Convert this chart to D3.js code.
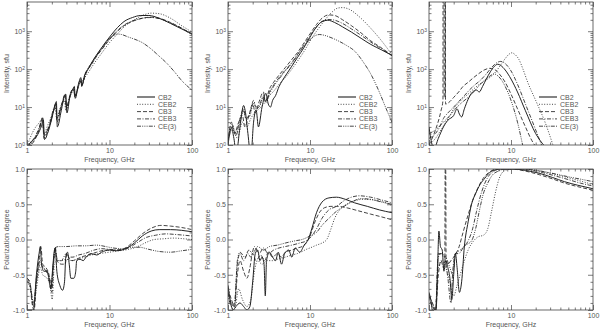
<!DOCTYPE html>
<html><head><meta charset="utf-8">
<script src="https://cdn.jsdelivr.net/npm/d3@7"></script>
<style>body{margin:0;background:#fff}svg{display:block}</style>
</head><body>
<script>
// ---------------- DATA ----------------
const seriesNames = ["CB2", "CEB2", "CB3", "CEB3", "CE(3)"];
const xTicks = [1, 10, 100];
const xTickLabels = ["1", "10", "100"];
const intensityTicks = [1, 10, 100, 1000];
const intensityExps = ["0", "1", "2", "3"];
const polTicks = [-1, -0.5, 0, 0.5, 1];
const polTickLabels = ["-1.0", "-0.5", "0.0", "0.5", "1.0"];

// Panel A (top-left): intensity, sfu  [freq GHz, value]
const A_CB2 = [[1.0,0.9],[1.15,1.3],[1.35,1.9],[1.5,3.2],[1.58,4.5],[1.63,1.4],[1.8,2.2],[2.0,5],[2.2,12],[2.27,14],[2.33,3],[2.6,8],[2.85,20],[2.95,22],[3.05,7],[3.3,18],[3.6,30],[3.75,35],[3.85,17],[4.2,40],[4.5,60],[4.6,35],[5.0,70],[5.5,100],[6.3,170],[7.5,300],[9,520],[10.5,800],[12.5,1250],[15,1800],[19,2300],[24,2600],[30,2600],[40,2200],[55,1600],[75,1150],[100,850]];
const A_CEB2 = [[1.0,0.9],[1.1,1.6],[1.25,2.8],[1.4,3.8],[1.55,5],[1.6,2],[1.8,3.5],[2.0,6],[2.2,10],[2.28,5],[2.5,9],[2.85,15],[2.95,8],[3.3,18],[3.7,28],[3.8,20],[4.3,40],[4.5,45],[5.0,60],[5.5,80],[6.5,140],[8,260],[10,500],[12.5,850],[15,1300],[20,2000],[25,2600],[32,3000],[40,2900],[55,2200],[75,1400],[100,950]];
const A_CB3 = [[1.0,0.9],[1.2,1.2],[1.4,2.5],[1.55,5.5],[1.6,1.5],[1.85,3],[2.1,8],[2.25,13],[2.3,4],[2.6,10],[2.9,22],[3.0,9],[3.4,25],[3.7,32],[3.8,18],[4.3,45],[4.5,55],[4.6,38],[5.2,80],[6,130],[7,220],[8.5,380],[10,600],[12.5,1000],[15,1400],[20,1900],[25,2200],[32,2350],[40,2200],[55,1700],[75,1200],[100,850]];
const A_CEB3 = [[1.0,0.9],[1.2,1.4],[1.4,2.8],[1.55,5],[1.6,1.8],[1.85,3.2],[2.1,9],[2.25,12],[2.3,5],[2.6,11],[2.9,20],[3.0,10],[3.4,24],[3.7,30],[3.8,20],[4.3,42],[4.5,50],[4.6,40],[5.2,85],[6,140],[7,230],[8.5,400],[10,640],[12.5,1050],[15,1450],[20,1950],[25,2200],[32,2300],[40,2150],[55,1650],[75,1200],[100,800]];
const A_CE3 = [[1.0,0.9],[1.2,1.3],[1.4,2.6],[1.55,4.5],[1.6,2],[1.85,3],[2.1,8],[2.25,11],[2.3,5],[2.6,10],[2.9,18],[3.0,10],[3.4,22],[3.7,28],[3.8,19],[4.3,40],[4.5,48],[4.6,40],[5.2,80],[6,135],[7,225],[8.5,420],[10,650],[11.5,800],[12.5,840],[14,820],[17,700],[20,620],[25,500],[30,380],[40,220],[50,140],[60,90],[75,50],[100,28]];

// Panel B (top-middle): intensity, sfu
const B_CB2 = [[1.0,1],[1.1,2.8],[1.18,1.5],[1.26,0.6],[1.4,3],[1.55,11],[1.62,8],[1.75,2],[1.9,0.5],[2.05,4],[2.2,8.5],[2.35,3],[2.6,10],[2.9,23],[3.1,12],[3.3,10],[3.5,15],[3.8,20],[4.2,35],[4.6,50],[5.2,75],[6,120],[7,200],[8.5,380],[10,700],[12,1300],[14,1800],[16.5,1950],[20,1700],[25,1300],[32,950],[42,650],[55,450],[75,320],[100,230]];
const B_CEB2 = [[1.0,1.5],[1.15,2.5],[1.3,1.5],[1.5,4],[1.7,3],[1.9,5],[2.1,7],[2.4,9],[2.8,13],[3.2,20],[3.6,26],[4.2,40],[5,60],[6,100],[7,160],[8.5,300],[10,550],[12,1000],[15,1900],[18,3000],[22,4100],[25,4200],[30,3800],[40,2400],[55,1200],[75,550],[100,240]];
const B_CB3 = [[1.0,1.2],[1.1,4],[1.2,2],[1.35,4],[1.5,6],[1.6,3],[1.8,6],[2.0,12],[2.15,7],[2.4,14],[2.7,25],[2.85,14],[3.2,30],[3.6,45],[4.2,70],[5,110],[6,180],[7,270],[8.5,500],[10,850],[12,1500],[14,2200],[17,2700],[20,2600],[25,2000],[32,1400],[42,900],[55,560],[75,360],[100,230]];
const B_CEB3 = [[1.0,1.3],[1.12,3.5],[1.25,2],[1.4,5],[1.55,9],[1.65,5],[1.85,7],[2.05,15],[2.2,10],[2.45,12],[2.7,20],[2.9,14],[3.2,25],[3.6,38],[4.2,60],[5,95],[6,150],[7,240],[8.5,440],[10,750],[12,1300],[14,1800],[16,2050],[19,2000],[25,1600],[32,1150],[42,780],[55,520],[75,340],[100,225]];
const B_CE3 = [[1.0,1.4],[1.12,3],[1.25,1.8],[1.4,4],[1.55,8],[1.65,5],[1.85,6],[2.05,13],[2.2,9],[2.45,11],[2.7,18],[2.9,13],[3.2,22],[3.6,35],[4.2,55],[5,90],[6,140],[7,230],[8.5,420],[10,600],[11.5,760],[13,820],[15,780],[18,680],[22,560],[28,420],[35,300],[45,150],[55,75],[70,25],[85,9],[100,4]];

// Panel C (top-right): intensity, sfu
const C_CB2 = [[1.0,3],[1.05,1.5],[1.15,0.8],[1.3,1.5],[1.5,3],[1.7,4.5],[2.0,6],[2.2,9],[2.35,6.5],[2.5,5.5],[2.7,9],[3.0,16],[3.4,25],[3.8,28],[4.1,25],[4.5,35],[5,55],[5.6,85],[6.3,120],[6.9,135],[7.5,125],[8.5,95],[10,55],[12,25],[15,8],[20,2],[26,0.9]];
const C_CEB2 = [[1.0,1.0],[1.2,1.5],[1.4,2.5],[1.6,4],[1.8,6],[2.0,9],[2.3,13],[2.6,17],[3,22],[3.5,30],[4,38],[4.7,48],[5.5,60],[6.5,85],[7.5,130],[8.5,190],[9.5,250],[10.3,270],[11,250],[12.5,180],[14,100],[16,45],[20,15],[26,4],[33,0.9]];
const C_CB3 = [[1.0,1.0],[1.2,2.5],[1.4,8],[1.48,15],[1.485,1e5],[1.525,1e5],[1.53,18],[1.575,18],[1.58,1e5],[1.585,1e5],[1.59,12],[1.8,14],[2.0,18],[2.3,25],[2.6,35],[3,45],[3.5,60],[4,75],[4.7,95],[5.5,105],[6.2,100],[7,80],[8.5,45],[10,22],[12,9],[15,3],[18,1.3],[20,0.9]];
const C_CEB3 = [[1.0,1.5],[1.2,2],[1.35,3],[1.5,5],[1.7,7],[2.0,10],[2.3,14],[2.7,20],[3.1,28],[3.6,38],[4.2,50],[5,75],[6,120],[7,155],[7.5,160],[8.5,140],[10,90],[12,40],[15,12],[20,2.5],[24,0.9]];
const C_CE3 = [[1.0,2],[1.2,2.5],[1.5,4],[1.8,6],[2.1,9],[2.5,13],[3,18],[3.5,25],[4,35],[4.7,50],[5.5,65],[6.2,75],[7,65],[8.5,35],[10,15],[12,4],[14,0.9]];

// Panel D (bottom-left): polarization degree
const D_CB2 = [[1.0,-1.0],[1.2,-1.0],[1.3,-0.5],[1.4,-0.2],[1.45,-0.1],[1.5,-0.35],[1.6,-0.45],[1.75,-0.45],[1.85,-0.55],[1.95,-0.7],[2.05,-0.4],[2.15,-0.15],[2.2,-0.12],[2.3,-0.45],[2.5,-0.65],[2.7,-0.72],[2.85,-0.6],[2.95,-0.25],[3.1,-0.18],[3.25,-0.35],[3.4,-0.55],[3.7,-0.55],[3.9,-0.45],[4.0,-0.3],[4.4,-0.28],[4.8,-0.3],[5.2,-0.25],[6,-0.2],[7,-0.22],[8,-0.18],[10,-0.15],[12,-0.16],[15,-0.14],[20,-0.05],[25,0.05],[32,0.12],[40,0.14],[55,0.14],[75,0.13],[100,0.11]];
const D_CEB2 = [[1.0,-0.6],[1.1,-0.7],[1.2,-0.95],[1.3,-0.7],[1.45,-0.4],[1.55,-0.5],[1.75,-0.55],[1.9,-0.65],[2.02,-0.85],[2.15,-0.35],[2.3,-0.3],[2.6,-0.3],[3,-0.28],[3.5,-0.3],[4,-0.28],[5,-0.25],[6,-0.22],[7.5,-0.2],[10,-0.18],[13,-0.16],[17,-0.14],[22,-0.1],[28,-0.04],[35,0.0],[45,0.01],[60,0.02],[80,0.01],[100,0.0]];
const D_CB3 = [[1.0,-0.55],[1.08,-0.6],[1.15,-0.9],[1.22,-1.0],[1.3,-0.6],[1.4,-0.3],[1.47,-0.1],[1.55,-0.35],[1.7,-0.4],[1.85,-0.5],[2.0,-0.75],[2.1,-0.35],[2.2,-0.1],[2.3,-0.3],[2.6,-0.35],[2.9,-0.35],[3.05,-0.2],[3.2,-0.25],[3.5,-0.3],[4,-0.28],[4.5,-0.25],[5.5,-0.22],[7,-0.18],[9,-0.15],[12,-0.15],[15,-0.13],[20,-0.02],[25,0.08],[32,0.16],[42,0.2],[55,0.19],[75,0.17],[100,0.14]];
const D_CEB3 = [[1.0,-0.55],[1.1,-0.65],[1.2,-0.95],[1.3,-0.55],[1.45,-0.3],[1.55,-0.4],[1.75,-0.45],[1.95,-0.7],[2.1,-0.3],[2.2,-0.15],[2.35,-0.3],[2.6,-0.3],[3,-0.2],[3.2,-0.25],[3.6,-0.25],[4.2,-0.22],[5,-0.2],[6.5,-0.15],[8,-0.13],[10,-0.14],[13,-0.15],[17,-0.12],[22,-0.04],[28,0.03],[36,0.06],[48,0.08],[65,0.07],[100,0.05]];
const D_CE3 = [[1.0,-0.58],[1.1,-0.68],[1.2,-0.9],[1.3,-0.6],[1.45,-0.35],[1.6,-0.4],[1.8,-0.5],[1.98,-0.6],[2.1,-0.3],[2.2,-0.12],[2.4,-0.1],[3,-0.1],[4,-0.09],[5,-0.09],[7,-0.08],[9,-0.1],[11,-0.12],[14,-0.13],[18,-0.11],[23,-0.11],[30,-0.14],[40,-0.17],[55,-0.18],[75,-0.16],[100,-0.14]];

// Panel E (bottom-middle): polarization degree
const E_CB2 = [[1.0,-0.65],[1.08,-0.9],[1.15,-1.0],[1.25,-0.95],[1.4,-0.9],[1.55,-0.95],[1.7,-1.0],[1.85,-0.95],[2.0,-0.6],[2.15,-0.2],[2.3,-0.15],[2.45,-0.3],[2.6,-0.25],[2.75,-0.35],[2.85,-0.8],[2.95,-0.3],[3.2,-0.18],[3.5,-0.25],[3.8,-0.3],[4.1,-0.18],[4.5,-0.35],[4.9,-0.2],[5.5,-0.15],[6,-0.25],[6.6,-0.12],[7.5,-0.18],[8.5,-0.08],[9.5,0.0],[10.5,0.15],[12,0.38],[14,0.53],[17,0.59],[21,0.6],[27,0.57],[35,0.52],[50,0.47],[70,0.42],[100,0.38]];
const E_CEB2 = [[1.0,-0.8],[1.1,-0.95],[1.2,-1.0],[1.35,-0.7],[1.5,-0.85],[1.7,-0.95],[1.9,-0.85],[2.1,-0.45],[2.3,-0.3],[2.6,-0.35],[3,-0.3],[3.5,-0.3],[4,-0.28],[5,-0.25],[6,-0.22],[7,-0.2],[8,-0.17],[9,-0.14],[10,-0.12],[12,-0.08],[14,-0.05],[16,0.0],[18,0.15],[20,0.3],[23,0.42],[28,0.5],[35,0.55],[45,0.57],[60,0.56],[80,0.53],[100,0.48]];
const E_CB3 = [[1.0,-0.7],[1.1,-0.85],[1.2,-0.95],[1.3,-0.5],[1.4,-0.3],[1.55,-0.45],[1.7,-0.55],[1.85,-0.4],[2.0,-0.2],[2.2,-0.3],[2.5,-0.22],[2.8,-0.3],[3.1,-0.18],[3.5,-0.25],[4,-0.2],[4.5,-0.25],[5,-0.18],[6,-0.15],[7,-0.12],[8,-0.1],[9,-0.05],[10,0.05],[11.5,0.25],[13,0.38],[15,0.45],[18,0.47],[22,0.47],[28,0.45],[38,0.41],[55,0.36],[75,0.32],[100,0.28]];
const E_CEB3 = [[1.0,-0.75],[1.1,-0.95],[1.2,-0.9],[1.3,-0.35],[1.4,-0.2],[1.55,-0.3],[1.75,-0.2],[1.9,-0.25],[2.1,-0.1],[2.4,-0.2],[2.7,-0.12],[3.1,-0.2],[3.6,-0.15],[4.2,-0.12],[5,-0.1],[6,-0.08],[7.5,-0.05],[9,-0.02],[10.5,0.05],[12,0.15],[14,0.3],[17,0.42],[21,0.47],[26,0.55],[32,0.6],[40,0.62],[55,0.6],[75,0.56],[100,0.52]];
const E_CE3 = [[1.0,-0.75],[1.1,-0.9],[1.2,-0.95],[1.3,-0.3],[1.4,-0.18],[1.6,-0.25],[1.8,-0.15],[2.0,-0.2],[2.3,-0.1],[2.7,-0.15],[3.2,-0.1],[4,-0.08],[5,-0.05],[6.5,-0.02],[8,0.0],[10,0.05],[12,0.1],[14,0.2],[17,0.3],[21,0.4],[26,0.47],[32,0.53],[42,0.58],[55,0.57],[75,0.53],[100,0.5]];

// Panel F (bottom-right): polarization degree
const F_CB2 = [[1.0,-0.75],[1.05,-0.85],[1.1,-1.0],[1.22,-1.0],[1.28,-0.3],[1.32,0.12],[1.38,-0.1],[1.45,-0.15],[1.52,-0.45],[1.6,-0.3],[1.7,-0.4],[1.8,-0.55],[1.9,-0.85],[2.0,-0.5],[2.1,-0.2],[2.2,-0.4],[2.35,-0.75],[2.5,-0.6],[2.7,-0.1],[3.0,0.25],[3.3,0.5],[3.7,0.65],[4.2,0.78],[4.8,0.87],[5.5,0.95],[6.5,0.99],[8,1.0],[11,1.0],[15,0.98],[22,0.94],[32,0.88],[45,0.82],[65,0.77],[100,0.72]];
const F_CEB2 = [[1.0,-0.85],[1.1,-0.95],[1.2,-1.0],[1.3,-0.4],[1.45,-0.3],[1.6,-0.4],[1.8,-0.6],[2.0,-0.8],[2.2,-0.65],[2.4,-0.5],[2.7,-0.3],[3.0,-0.15],[3.5,-0.02],[4.0,0.04],[4.6,0.06],[5.2,0.15],[5.8,0.4],[6.5,0.68],[7.2,0.87],[8.2,0.97],[10,1.0],[14,1.0],[20,0.98],[30,0.94],[45,0.89],[65,0.84],[100,0.78]];
const F_CB3 = [[1.0,-0.8],[1.1,-0.95],[1.2,-1.0],[1.3,-0.5],[1.4,-0.3],[1.5,-0.4],[1.56,-0.3],[1.575,1.0],[1.6,1.0],[1.615,-0.3],[1.7,-0.35],[1.85,-0.3],[2.0,-0.25],[2.3,-0.12],[2.6,0.1],[3.0,0.35],[3.4,0.55],[3.9,0.72],[4.6,0.87],[5.5,0.96],[7,1.0],[10,1.0],[15,0.97],[22,0.92],[32,0.86],[45,0.8],[65,0.75],[100,0.7]];
const F_CEB3 = [[1.0,-0.78],[1.1,-0.9],[1.2,-1.0],[1.3,-0.2],[1.4,-0.2],[1.55,-0.25],[1.7,-0.55],[1.85,-0.9],[1.95,-0.45],[2.1,-0.2],[2.3,-0.2],[2.6,-0.12],[3.0,-0.02],[3.4,0.15],[3.8,0.4],[4.4,0.68],[5.2,0.88],[6,0.96],[7.5,1.0],[11,1.0],[16,0.99],[24,0.95],[35,0.9],[50,0.85],[70,0.8],[100,0.76]];
const F_CE3 = [[1.0,-0.8],[1.1,-0.9],[1.2,-1.0],[1.3,-0.25],[1.4,-0.2],[1.6,-0.25],[1.8,-0.4],[1.95,-0.5],[2.1,-0.2],[2.4,-0.15],[2.8,-0.08],[3.3,-0.02],[3.7,0.15],[4.1,0.4],[4.6,0.65],[5.2,0.8],[6,0.92],[7,0.97],[8.5,1.0],[12,1.0],[18,0.99],[26,0.96],[38,0.92],[55,0.88],[75,0.85],[100,0.82]];

// ---------------- LAYOUT / STYLE ----------------
const W = 600, H = 330;
const colX = [[27,192],[228,392],[429,593]];
const rowY = [[2,145],[169,310]];
const dashes = [null, "1,1.6", "4,2", "4,1.5,1,1.5", "4,1.2,1,1.2,1,1.2,1,1.2"];
const widths = [1.0, 0.85, 0.85, 0.85, 0.85];
const textColor = "#555";
const font = "Liberation Sans, Arial, sans-serif";

const panelData = [
  [A_CB2, A_CEB2, A_CB3, A_CEB3, A_CE3],
  [B_CB2, B_CEB2, B_CB3, B_CEB3, B_CE3],
  [C_CB2, C_CEB2, C_CB3, C_CEB3, C_CE3],
  [D_CB2, D_CEB2, D_CB3, D_CEB3, D_CE3],
  [E_CB2, E_CEB2, E_CB3, E_CEB3, E_CE3],
  [F_CB2, F_CEB2, F_CB3, F_CEB3, F_CE3]
];

const svg = d3.select("body").append("svg").attr("width", W).attr("height", H)
  .style("font-family", font);

const minorLog = [];
[1,10].forEach(b => { for (let k = 2; k <= 9; k++) minorLog.push(b*k); });
const minorLogY = [];
[1,10,100,1000].forEach(b => { for (let k = 2; k <= 9; k++) if (b*k < 5900) minorLogY.push(b*k); });
const minorPol = d3.range(-0.9, 1.0, 0.1).map(v => +v.toFixed(2)).filter(v => Math.abs(v*2 - Math.round(v*2)) > 1e-6);

panelData.forEach((series, pi) => {
  const col = pi % 3, row = Math.floor(pi / 3);
  const [x0, x1] = colX[col], [y0, y1] = rowY[row];
  const isTop = row === 0;
  const x = d3.scaleLog().domain([1, 100]).range([x0, x1]);
  const y = isTop ? d3.scaleLog().domain([1, 5900]).range([y1, y0])
                  : d3.scaleLinear().domain([-1, 1]).range([y1, y0]);
  const g = svg.append("g");
  const clipId = "clip" + pi;
  g.append("clipPath").attr("id", clipId).append("rect")
    .attr("x", x0).attr("y", y0).attr("width", x1 - x0).attr("height", y1 - y0);

  // curves
  const line = d3.line().x(d => x(d[0])).y(d => y(d[1])).curve(d3.curveMonotoneX);
  const cg = g.append("g").attr("clip-path", `url(#${clipId})`);
  series.forEach((s, si) => {
    cg.append("path").attr("d", line(s)).attr("fill", "none")
      .attr("stroke", "#222").attr("stroke-width", widths[si])
      .attr("stroke-dasharray", dashes[si]);
  });

  // axes
  const styleAxis = sel => {
    sel.select(".domain").remove();
    sel.selectAll("line").attr("stroke", "#444").attr("stroke-width", 0.7);
    sel.selectAll("text").attr("fill", textColor).style("font-family", font).attr("font-size", 7);
  };
  g.append("g").attr("transform", `translate(0,${y1})`)
    .call(d3.axisBottom(x).tickValues(xTicks).tickSize(-5).tickPadding(3)
      .tickFormat((d, i) => xTickLabels[i])).call(styleAxis);
  g.append("g").attr("transform", `translate(0,${y1})`)
    .call(d3.axisBottom(x).tickValues(minorLog).tickSize(-2.5).tickFormat("")).call(styleAxis);
  g.append("g").attr("transform", `translate(0,${y0})`)
    .call(d3.axisTop(x).tickValues(xTicks).tickSize(-5).tickFormat("")).call(styleAxis);
  g.append("g").attr("transform", `translate(0,${y0})`)
    .call(d3.axisTop(x).tickValues(minorLog).tickSize(-2.5).tickFormat("")).call(styleAxis);

  const yMaj = isTop ? intensityTicks : polTicks;
  const yMin = isTop ? minorLogY : minorPol;
  const leftAx = g.append("g").attr("transform", `translate(${x0},0)`)
    .call(d3.axisLeft(y).tickValues(yMaj).tickSize(-5).tickPadding(2)
      .tickFormat((d, i) => isTop ? "10" : polTickLabels[i])).call(styleAxis);
  if (isTop) {
    leftAx.selectAll("text").each(function(d, i) {
      d3.select(this).append("tspan").attr("dy", "-0.45em").attr("font-size", 5).text(intensityExps[i]);
    });
  }
  g.append("g").attr("transform", `translate(${x0},0)`)
    .call(d3.axisLeft(y).tickValues(yMin).tickSize(-2.5).tickFormat("")).call(styleAxis);
  g.append("g").attr("transform", `translate(${x1},0)`)
    .call(d3.axisRight(y).tickValues(yMaj).tickSize(-5).tickFormat("")).call(styleAxis);
  g.append("g").attr("transform", `translate(${x1},0)`)
    .call(d3.axisRight(y).tickValues(yMin).tickSize(-2.5).tickFormat("")).call(styleAxis);

  // frame
  g.append("rect").attr("x", x0).attr("y", y0).attr("width", x1 - x0).attr("height", y1 - y0)
    .attr("fill", "none").attr("stroke", "#444").attr("stroke-width", 0.8);

  // titles
  g.append("text").attr("x", (x0 + x1) / 2).attr("y", y1 + 17).attr("text-anchor", "middle")
    .attr("font-size", 7).attr("fill", textColor).text("Frequency, GHz");
  g.append("text").attr("transform", `translate(${x0 - 18},${(y0 + y1) / 2}) rotate(-90)`)
    .attr("text-anchor", "middle").attr("font-size", 7).attr("fill", textColor)
    .text(isTop ? "Intensity, sfu" : "Polarization degree");

  // legend
  if (isTop) {
    seriesNames.forEach((name, si) => {
      const ly = 97 + si * 7.3;
      g.append("line").attr("x1", x0 + 110).attr("x2", x0 + 128).attr("y1", ly).attr("y2", ly)
        .attr("stroke", si === 0 ? "#777" : "#333").attr("stroke-width", si === 0 ? 1.8 : 0.9)
        .attr("stroke-dasharray", dashes[si]);
      g.append("text").attr("x", x0 + 131).attr("y", ly + 2.5).attr("font-size", 7)
        .attr("fill", textColor).text(name);
    });
  }
});
</script>
</body></html>
